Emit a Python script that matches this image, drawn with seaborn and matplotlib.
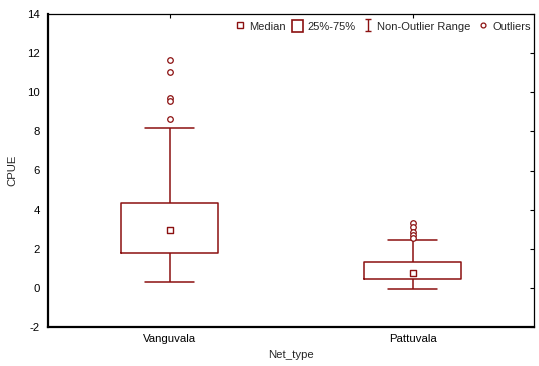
import numpy as np
import pandas as pd
import matplotlib
matplotlib.use("Agg")
import matplotlib.pyplot as plt
import seaborn as sns
from matplotlib.lines import Line2D
from matplotlib.patches import Patch
from matplotlib.path import Path

# ---- data ----
categories = ["Vanguvala", "Pattuvala"]
whisker_low = [0.30, -0.05]
q1 = [1.80, 0.47]
median = [2.94, 0.74]
q3 = [4.34, 1.32]
whisker_high = [8.17, 2.46]
outliers_vanguvala = [11.65, 11.02, 9.69, 9.57, 8.63]
outliers_pattuvala = [3.30, 3.13, 2.87, 2.70, 2.53]
y_ticks = [-2, 0, 2, 4, 6, 8, 10, 12, 14]

DARK = "#8b1010"
FS = 8.2

sns.set_style("white")
plt.rcParams["font.family"] = ["Liberation Sans", "DejaVu Sans"]

# box data: five values per category so the quartiles are exact
rows = []
for i, c in enumerate(categories):
    for v in (whisker_low[i], q1[i], median[i], q3[i], whisker_high[i]):
        rows.append({"Net_type": c, "CPUE": v})
box_df = pd.DataFrame(rows)
med_df = pd.DataFrame({"Net_type": categories, "CPUE": median})
out_df = pd.DataFrame({
    "Net_type": ["Vanguvala"] * len(outliers_vanguvala) + ["Pattuvala"] * len(outliers_pattuvala),
    "CPUE": outliers_vanguvala + outliers_pattuvala,
})

fig = plt.figure(figsize=(5.39, 3.66), dpi=100)
ax = fig.add_axes([48 / 539, 39 / 366, 486 / 539, 313 / 366])

sns.boxplot(data=box_df, x="Net_type", y="CPUE", order=categories, whis=(0, 100),
            width=0.4, fill=False, color=DARK, linewidth=1.1, showfliers=False,
            medianprops={"visible": False},
            boxprops={"color": DARK}, whiskerprops={"color": DARK}, capprops={"color": DARK},
            ax=ax)
sns.stripplot(data=med_df, x="Net_type", y="CPUE", order=categories, jitter=False,
              marker="s", size=4, color="white", edgecolor=DARK, linewidth=1.0, ax=ax, zorder=5)
sns.stripplot(data=out_df, x="Net_type", y="CPUE", order=categories, jitter=False,
              marker="o", size=4, color="white", edgecolor=DARK, linewidth=0.9, ax=ax, zorder=5)

ax.set_xlim(-0.5, 1.5)
ax.set_ylim(-2, 14)
ax.set_yticks(y_ticks)
ax.set_yticklabels([str(t) for t in y_ticks])
ax.tick_params(direction="in", length=3, width=0.8, labelsize=FS, colors="black",
               top=True, right=True, labeltop=False, labelright=False, pad=6)
ax.tick_params(axis="x", pad=5)
for s in ("left", "bottom"):
    ax.spines[s].set_linewidth(1.6)
for s in ("top", "right"):
    ax.spines[s].set_linewidth(0.9)
for s in ax.spines.values():
    s.set_color("black")

ax.set_xlabel("Net_type", fontsize=FS, labelpad=4)
ax.set_ylabel("CPUE", fontsize=FS, labelpad=7)

ibeam = Path([(-0.5, 1), (0.5, 1), (0, 1), (0, -1), (-0.5, -1), (0.5, -1)],
             [Path.MOVETO, Path.LINETO, Path.MOVETO, Path.LINETO, Path.MOVETO, Path.LINETO])
handles = [
    Line2D([], [], linestyle="none", marker="s", markersize=4, markerfacecolor="white",
           markeredgecolor=DARK, markeredgewidth=1.0),
    Patch(facecolor="none", edgecolor=DARK, linewidth=1.2),
    Line2D([], [], linestyle="none", marker=ibeam, markersize=9, markerfacecolor="none",
           markeredgecolor=DARK, markeredgewidth=1.0),
    Line2D([], [], linestyle="none", marker="o", markersize=3.5, markerfacecolor="white",
           markeredgecolor=DARK, markeredgewidth=0.9),
]
labels = ["Median", "25%-75%", "Non-Outlier Range", "Outliers"]
fig.legend(handles, labels, loc="center left", bbox_to_anchor=(234 / 539, 1 - 26 / 366),
           ncol=4, frameon=False, fontsize=8.0, handlelength=1.0, handleheight=1.2,
           handletextpad=0.35, columnspacing=0.6, borderpad=0, borderaxespad=0)

fig.savefig("out.png", dpi=100)
